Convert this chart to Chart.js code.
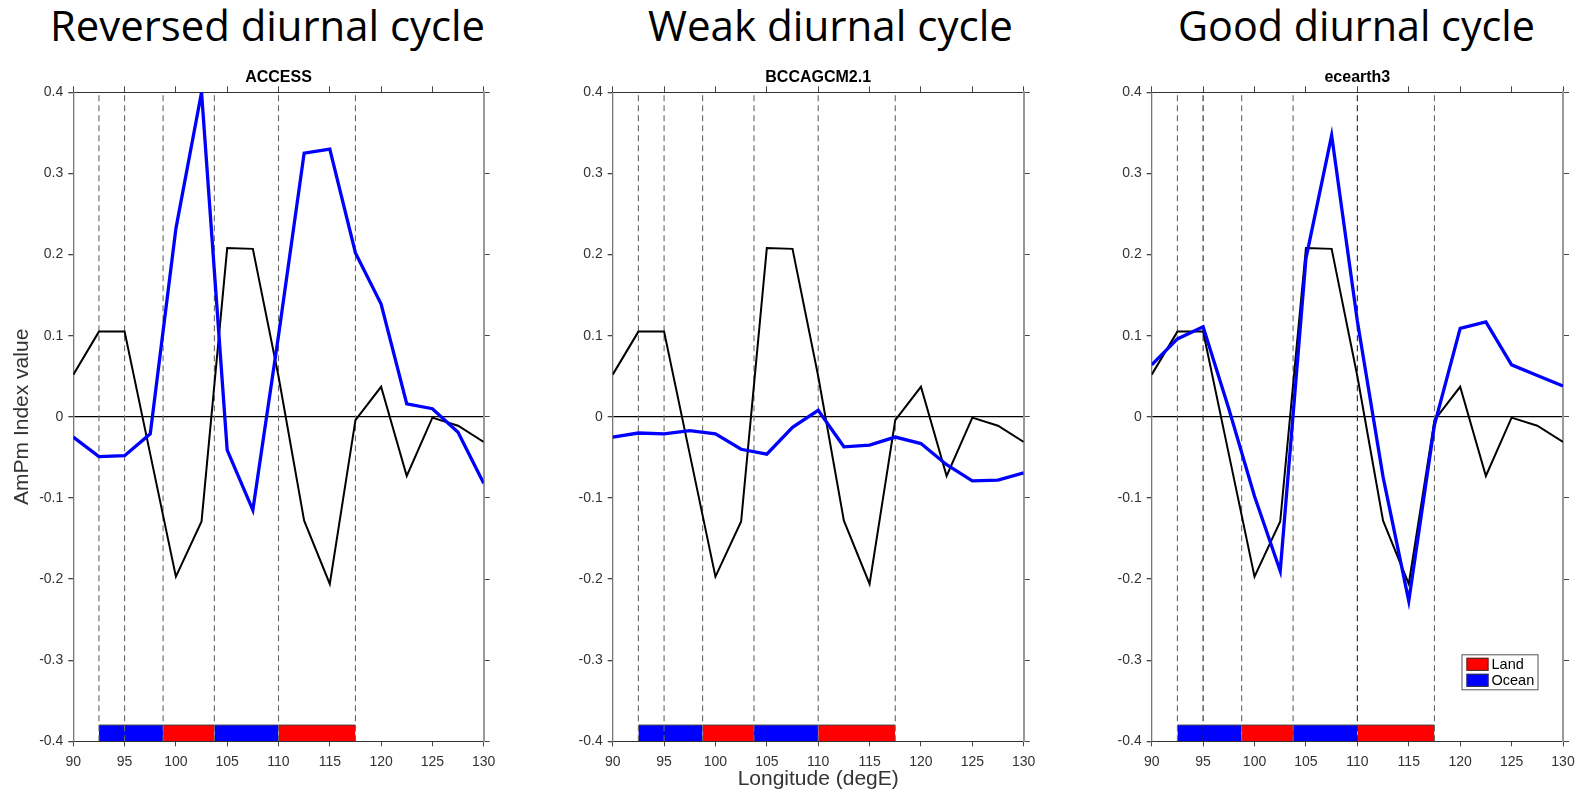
<!DOCTYPE html>
<html>
<head>
<meta charset="utf-8">
<script src="https://cdn.jsdelivr.net/npm/chart.js@4.4.1/dist/chart.umd.min.js"></script>
<style>
  html, body { margin: 0; padding: 0; background: #fff; }
  #page { position: relative; width: 1584px; height: 792px; overflow: hidden; }
  .panel { position: absolute; top: 0; }
  .heading {
    position: absolute; top: 4px; margin: 0;
    font-family: "Open Sans", sans-serif; font-size: 42px; line-height: 1;
    color: #000; white-space: nowrap; transform-origin: 0 0;
  }
</style>
</head>
<body>
<div id="page">
  <div class="heading" id="h0">Reversed diurnal cycle</div>
  <div class="heading" id="h1">Weak diurnal cycle</div>
  <div class="heading" id="h2">Good diurnal cycle</div>
  <canvas class="panel" id="c0" width="520" height="792" style="left:0px"></canvas>
  <canvas class="panel" id="c1" width="520" height="792" style="left:530px"></canvas>
  <canvas class="panel" id="c2" width="514" height="792" style="left:1070px"></canvas>
</div>
<script>
// Longitudes (degE) where the index is sampled
const lon = [90, 92.5, 95, 97.5, 100, 102.5, 105, 107.5, 110, 112.5, 115, 117.5, 120, 122.5, 125, 127.5, 130];

// Observed AmPm index (black line, same in every panel)
const obsVals = [0.052, 0.105, 0.105, -0.046, -0.197, -0.129, 0.208, 0.207, 0.05, -0.128, -0.206, -0.004, 0.037, -0.073, -0.001, -0.011, -0.031];

// Model AmPm index (blue lines)
const accessVals = [-0.025, -0.049, -0.048, -0.021, 0.232, 0.400, -0.041, -0.115, 0.10, 0.325, 0.330, 0.202, 0.139, 0.016, 0.010, -0.019, -0.082];
const bccVals = [-0.025, -0.020, -0.021, -0.017, -0.021, -0.040, -0.046, -0.013, 0.008, -0.037, -0.035, -0.025, -0.033, -0.059, -0.079, -0.078, -0.069];
const ecearthVals = [0.064, 0.096, 0.111, 0.010, -0.098, -0.190, 0.195, 0.347, 0.118, -0.074, -0.227, -0.010, 0.109, 0.117, 0.064, 0.051, 0.038];

const modelNames = ['ACCESS', 'BCCAGCM2.1', 'ecearth3'];
const headings = ['Reversed diurnal cycle', 'Weak diurnal cycle', 'Good diurnal cycle'];

// Land / ocean strip along the bottom
const segStart = [92.5, 98.75, 103.75, 110];
const segEnd = [98.75, 103.75, 110, 117.5];
const segType = ['Ocean', 'Land', 'Ocean', 'Land'];
const stripTop = -0.38;
const stripBottom = -0.4;

// Dashed coast lines
const coastLines = [92.5, 95, 98.75, 103.75, 110, 117.5];
const darkCoast = [false, true, false, false, true, false];

// Ticks
const xTicks = [90, 95, 100, 105, 110, 115, 120, 125, 130];
const yTicks = [-0.4, -0.3, -0.2, -0.1, 0, 0.1, 0.2, 0.3, 0.4];

const legendLabels = ['Land', 'Ocean'];
const typeColors = { Land: '#ff0000', Ocean: '#0000ff' };

const FONT = '"Liberation Sans", Arial, Helvetica, sans-serif';

// Heading placement (left edge, target width)
const headingPos = [[50, 435], [648, 365], [1178, 357]];
headings.forEach((t, i) => {
    const el = document.getElementById('h' + i);
    el.style.left = headingPos[i][0] + 'px';
    const w = el.getBoundingClientRect().width;
    el.style.transform = 'scaleX(' + (headingPos[i][1] / w) + ')';
});

// Panel title drawn above the plot area
const panelTitle = {
    id: 'panelTitle',
    afterDraw(chart, args, opts) {
        const { ctx, chartArea } = chart;
        ctx.save();
        ctx.font = 'bold 16px ' + FONT;
        ctx.fillStyle = '#000';
        ctx.textAlign = 'center';
        ctx.textBaseline = 'middle';
        ctx.fillText(opts.text, (chartArea.left + chartArea.right) / 2, 78);
        ctx.restore();
    }
};

// Small Land/Ocean key
const keyBox = {
    id: 'keyBox',
    afterDraw(chart, args, opts) {
        if (!opts.show) return;
        const { ctx, chartArea } = chart;
        const x = chartArea.right - 101.5, y = chartArea.bottom - 87;
        ctx.save();
        ctx.fillStyle = '#fff';
        ctx.fillRect(x, y, 77, 36);
        ctx.strokeStyle = '#555';
        ctx.lineWidth = 1;
        ctx.strokeRect(x + 0.5, y + 0.5, 76, 35);
        ctx.font = '14.5px ' + FONT;
        ctx.textBaseline = 'middle';
        legendLabels.forEach((lab, i) => {
            const sy = y + 3.5 + i * 16;
            ctx.fillStyle = typeColors[lab];
            ctx.fillRect(x + 5, sy, 22, 13);
            ctx.strokeStyle = '#333';
            ctx.strokeRect(x + 5.5, sy + 0.5, 21, 12);
            ctx.fillStyle = '#000';
            ctx.fillText(lab, x + 30, sy + 7);
        });
        ctx.restore();
    }
};

function makePanel(idx, modelVals, layout) {
    const datasets = [];

    datasets.push({
        label: modelNames[idx],
        data: lon.map((x, i) => ({ x: x, y: modelVals[i] })),
        borderColor: '#0000ff',
        borderWidth: 3.3,
        pointRadius: 0,
        tension: 0
    });
    datasets.push({
        label: 'Obs',
        data: lon.map((x, i) => ({ x: x, y: obsVals[i] })),
        borderColor: '#000',
        borderWidth: 2,
        pointRadius: 0,
        tension: 0
    });
    coastLines.forEach((c, i) => {
        datasets.push({
            label: 'coast' + i,
            data: [{ x: c, y: stripBottom }, { x: c, y: 0.4 }],
            borderColor: darkCoast[i] && idx === 2 ? '#222' : '#666',
            borderWidth: 1.1,
            borderDash: [6, 4],
            pointRadius: 0
        });
    });
    segStart.forEach((s, i) => {
        datasets.push({
            label: segType[i],
            data: [{ x: s, y: stripTop }, { x: segEnd[i], y: stripTop }],
            borderColor: '#444',
            borderWidth: 1,
            backgroundColor: typeColors[segType[i]],
            fill: { value: stripBottom },
            pointRadius: 0
        });
    });

    const tickFont = { family: FONT, size: 14 };

    return new Chart(document.getElementById('c' + idx), {
        type: 'line',
        data: { datasets: datasets },
        options: {
            responsive: false,
            animation: false,
            layout: { padding: { left: layout.padLeft, right: layout.padRight, top: 86.3, bottom: 0 } },
            plugins: {
                legend: { display: false },
                tooltip: { enabled: false },
                panelTitle: { text: modelNames[idx] },
                keyBox: { show: idx === 2 }
            },
            scales: {
                x: {
                    type: 'linear', position: 'bottom', min: 90, max: 130,
                    afterBuildTicks: s => { s.ticks = xTicks.map(v => ({ value: v })); },
                    afterFit: s => { s.height = 50.7; },
                    ticks: { color: '#333', font: tickFont, padding: 7, maxRotation: 0, autoSkip: false },
                    grid: { drawOnChartArea: false, tickLength: 5, tickColor: '#444' },
                    border: { color: '#333', width: 1 },
                    title: {
                        display: idx === 1, text: 'Longitude (degE)', color: '#333',
                        font: { family: FONT, size: 21 }, padding: { top: 0, bottom: 0 }
                    }
                },
                xTop: {
                    type: 'linear', position: 'top', min: 90, max: 130,
                    afterBuildTicks: s => { s.ticks = xTicks.map(v => ({ value: v })); },
                    afterFit: s => { s.height = 6; },
                    ticks: { display: false },
                    grid: { drawOnChartArea: false, tickLength: 6, tickColor: '#444' },
                    border: { color: '#333', width: 1 }
                },
                y: {
                    type: 'linear', position: 'left', min: -0.4, max: 0.4,
                    afterBuildTicks: s => { s.ticks = yTicks.map(v => ({ value: v })); },
                    afterFit: s => { s.width = layout.yWidth; },
                    ticks: {
                        color: '#333', font: tickFont, padding: 5,
                        callback: v => String(Math.round(v * 10) / 10)
                    },
                    grid: {
                        color: c => (c.tick && c.tick.value === 0 ? '#000' : 'rgba(0,0,0,0)'),
                        lineWidth: 1.3, tickLength: 5, tickColor: '#444'
                    },
                    border: { color: '#777', width: 1.3 },
                    title: {
                        display: idx === 0, text: 'AmPm Index value', color: '#333',
                        font: { family: FONT, size: 21 }, padding: { top: 10, bottom: 0 }
                    }
                },
                yRight: {
                    type: 'linear', position: 'right', min: -0.4, max: 0.4,
                    afterBuildTicks: s => { s.ticks = yTicks.map(v => ({ value: v })); },
                    afterFit: s => { s.width = 6; },
                    ticks: { display: false },
                    grid: { drawOnChartArea: false, tickLength: 6, tickColor: '#444' },
                    border: { color: '#999', width: 2 }
                }
            }
        },
        plugins: [panelTitle, keyBox]
    });
}

makePanel(0, accessVals, { padLeft: 0, padRight: 30.3, yWidth: 73.3 });
makePanel(1, bccVals, { padLeft: 22.7, padRight: 20.3, yWidth: 60 });
makePanel(2, ecearthVals, { padLeft: 21.7, padRight: 15, yWidth: 60 });
</script>
</body>
</html>
